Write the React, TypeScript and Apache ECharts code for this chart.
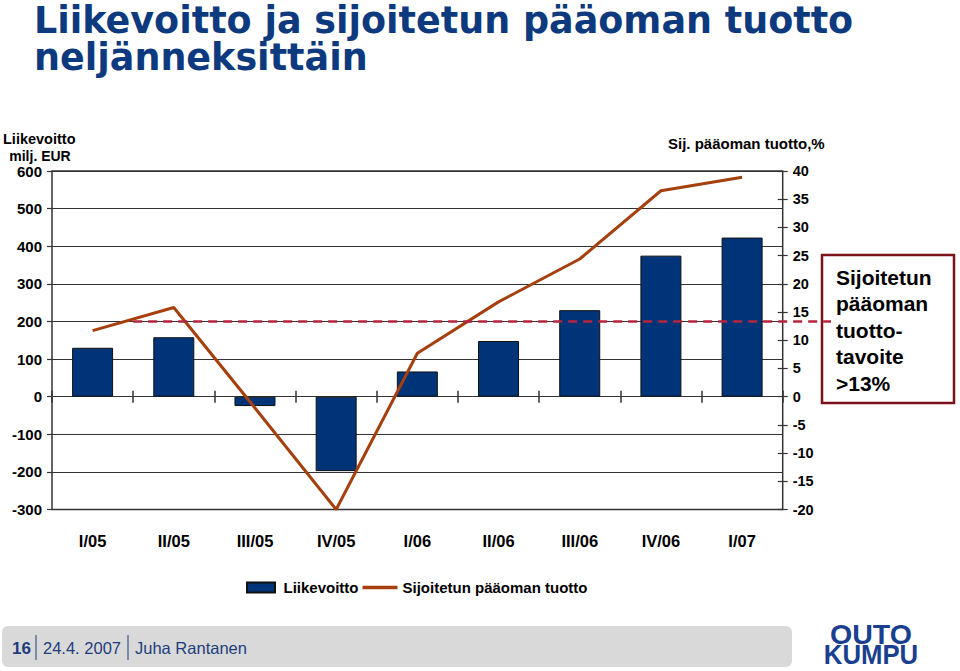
import React, { useEffect, useRef } from 'react';
import * as echarts from 'echarts';

const categories = ['I/05', 'II/05', 'III/05', 'IV/05', 'I/06', 'II/06', 'III/06', 'IV/06', 'I/07'];
const operatingProfit = [130, 158, -25, -198, 67, 148, 230, 375, 423];
const roce = [11.7, 15.8, -2, -20, 7.7, 16.8, 24.4, 36.5, 38.9];
const roceTarget = 13.33;

const FONT = "'Liberation Sans', Arial, Helvetica, sans-serif";
const NAVY = '#0d3a7e';
const FOOT = '#1d3d7c';
const LINE_COLOR = '#a5400e';

export default function App() {
  const ref = useRef<HTMLDivElement>(null);

  useEffect(() => {
    const chart = echarts.init(ref.current!, null, { renderer: 'svg' });
    chart.setOption({
      animation: false,
      backgroundColor: '#ffffff',
      grid: {
        left: 52,
        right: 177.3,
        top: 171,
        bottom: 161.5,
        show: true,
        borderColor: '#333',
        borderWidth: 1.5,
        backgroundColor: 'transparent',
        containLabel: false,
        outerBoundsMode: 'none',
      },
      legend: {
        left: 241,
        top: 575,
        itemWidth: 35,
        itemHeight: 10,
        itemGap: 4,
        textStyle: { fontFamily: FONT, fontWeight: 'bold', fontSize: 15, color: '#000' },
        data: [
          { name: 'Liikevoitto', icon: 'path://M0 0H28V10H0Z' },
          {
            name: 'Sijoitetun pääoman tuotto',
            icon: 'path://M0 0H35V3.5H0Z',
            itemStyle: { color: LINE_COLOR, borderWidth: 0 },
          },
        ],
      },
      xAxis: [
        {
          type: 'category',
          data: categories,
          position: 'bottom',
          boundaryGap: true,
          axisLine: { show: true, onZero: true, onZeroAxisIndex: 0, lineStyle: { color: '#333', width: 1.2 } },
          axisTick: { show: true, length: 6, interval: 0, alignWithLabel: false, lineStyle: { color: '#333', width: 1.5 } },
          axisLabel: { margin: 23, interval: 0, fontFamily: FONT, fontWeight: 'bold', fontSize: 16.5, color: '#000' },
          splitLine: { show: false },
        },
        {
          type: 'category',
          data: categories,
          position: 'top',
          boundaryGap: true,
          axisLine: { show: true, onZero: true, onZeroAxisIndex: 0, lineStyle: { color: '#333', width: 1.2 } },
          axisTick: { show: true, length: 6, interval: 0, alignWithLabel: false, lineStyle: { color: '#333', width: 1.5 } },
          axisLabel: { show: false },
          splitLine: { show: false },
        },
      ],
      yAxis: [
        {
          type: 'value',
          position: 'left',
          min: -300,
          max: 600,
          interval: 100,
          axisLine: { show: false },
          axisTick: { show: true, length: 5, lineStyle: { color: '#333', width: 1.2 } },
          axisLabel: { margin: 10, fontFamily: FONT, fontWeight: 'bold', fontSize: 15, color: '#000' },
          splitLine: { show: true, lineStyle: { color: '#333', width: 1.2 } },
        },
        {
          type: 'value',
          position: 'right',
          offset: -5,
          min: -20,
          max: 40,
          interval: 5,
          axisLine: { show: false },
          axisTick: { show: true, length: 10, lineStyle: { color: '#333', width: 1.2 } },
          axisLabel: { margin: 15, align: 'left', fontFamily: FONT, fontWeight: 'bold', fontSize: 14.5, color: '#000' },
          splitLine: { show: false },
        },
      ],
      series: [
        {
          name: 'Liikevoitto',
          type: 'bar',
          xAxisIndex: 0,
          yAxisIndex: 0,
          data: operatingProfit,
          barWidth: 41,
          z: 2,
          itemStyle: { color: '#003478', borderColor: '#111', borderWidth: 1 },
        },
        {
          name: 'Sijoitetun pääoman tuotto',
          type: 'line',
          xAxisIndex: 0,
          yAxisIndex: 1,
          data: roce,
          symbol: 'none',
          z: 6,
          lineStyle: { color: LINE_COLOR, width: 3 },
          itemStyle: { color: LINE_COLOR },
        },
      ],
    });

    const c0 = chart.convertToPixel({ xAxisIndex: 0 }, categories[0]) as number;
    const c1 = chart.convertToPixel({ xAxisIndex: 0 }, categories[1]) as number;
    const yT = chart.convertToPixel({ yAxisIndex: 1 }, roceTarget) as number;

    const txt = (text: string, x: number, y: number, font: string, fill: string, align = 'left', extra: any = {}) => ({
      type: 'text',
      x,
      y,
      z: 20,
      ...extra,
      style: { text, font, fill, textAlign: align, textVerticalAlign: 'middle' },
    });

    chart.setOption({
      graphic: [
        {
          type: 'text',
          x: 34,
          y: 2,
          z: 20,
          style: {
            text: 'Liikevoitto ja sijoitetun pääoman tuotto\nneljänneksittäin',
            font: "bold 36.5px 'DejaVu Sans', sans-serif",
            fill: NAVY,
            lineHeight: 37,
            textAlign: 'left',
            textVerticalAlign: 'top',
          },
        },
        txt('Liikevoitto', 3, 139, `bold 14.5px ${FONT}`, '#000'),
        txt('milj. EUR', 40, 155.5, `bold 14px ${FONT}`, '#000', 'center'),
        txt('Sij. pääoman tuotto,%', 668, 143, `bold 15px ${FONT}`, '#000'),
        {
          type: 'rect',
          z: 10,
          shape: { x: 822, y: 255, width: 132, height: 148 },
          style: { fill: '#fff', stroke: '#7b1119', lineWidth: 2.5 },
        },
        {
          type: 'text',
          x: 836,
          y: 264,
          z: 20,
          style: {
            text: 'Sijoitetun\npääoman\ntuotto-\ntavoite\n>13%',
            font: `bold 21px ${FONT}`,
            fill: '#000',
            lineHeight: 26.5,
            textAlign: 'left',
            textVerticalAlign: 'top',
          },
        },
        {
          type: 'line',
          z: 11,
          shape: { x1: (c0 + c1) / 2, y1: yT, x2: 831, y2: yT },
          style: { stroke: '#b5253e', lineWidth: 2.5, lineDash: [9, 6] },
        },
        {
          type: 'rect',
          z: 1,
          shape: { x: 2, y: 626, width: 790, height: 41, r: 6 },
          style: { fill: '#d9d9d9' },
        },
        txt('16', 12, 648, `bold 17px ${FONT}`, FOOT),
        { type: 'line', z: 5, shape: { x1: 36, y1: 635, x2: 36, y2: 660 }, style: { stroke: FOOT, lineWidth: 1 } },
        txt('24.4. 2007', 43, 648, `16.5px ${FONT}`, FOOT),
        { type: 'line', z: 5, shape: { x1: 128, y1: 635, x2: 128, y2: 660 }, style: { stroke: FOOT, lineWidth: 1 } },
        txt('Juha Rantanen', 135, 648, `16.5px ${FONT}`, FOOT),
        txt('OUTO', 871, 634, `bold 28px ${FONT}`, '#1a3f8f', 'center', { scaleX: 1.02 }),
        txt('KUMPU', 871, 655, `bold 28px ${FONT}`, '#1a3f8f', 'center', { scaleX: 0.92 }),
      ],
    });

    return () => chart.dispose();
  }, []);

  return (
    <div
      ref={ref}
      style={{ position: 'absolute', left: 0, top: 0, width: 960, height: 671, background: '#fff' }}
    />
  );
}
